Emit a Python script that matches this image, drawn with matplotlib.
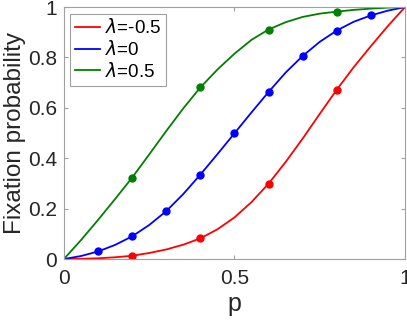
import matplotlib.pyplot as plt

plt.rcParams['font.family'] = ['Liberation Sans', 'DejaVu Sans']

# curve values
p_curve = [0, 0.05, 0.1, 0.15, 0.2, 0.25, 0.3, 0.35, 0.4, 0.45, 0.5,
           0.55, 0.6, 0.65, 0.7, 0.75, 0.8, 0.85, 0.9, 0.95, 1]
red_curve = [0, 0.001, 0.003, 0.007, 0.013, 0.024, 0.038, 0.057, 0.082, 0.118, 0.165,
             0.226, 0.299, 0.385, 0.478, 0.576, 0.672, 0.762, 0.845, 0.925, 1]
blue_curve = [0, 0.012, 0.030, 0.056, 0.090, 0.135, 0.190, 0.258, 0.335, 0.416, 0.499,
              0.582, 0.663, 0.740, 0.806, 0.862, 0.907, 0.942, 0.967, 0.986, 1]
green_curve = [0, 0.075, 0.155, 0.238, 0.323, 0.415, 0.508, 0.598, 0.681, 0.752, 0.815,
               0.870, 0.911, 0.940, 0.961, 0.974, 0.982, 0.989, 0.994, 0.998, 1]

# simulated points
p_red = [0.2, 0.4, 0.6, 0.8]
y_red = [0.012, 0.082, 0.299, 0.672]
p_blue = [0.1, 0.2, 0.3, 0.4, 0.5, 0.6, 0.7, 0.8, 0.9]
y_blue = [0.030, 0.090, 0.190, 0.335, 0.499, 0.663, 0.806, 0.907, 0.967]
p_green = [0.2, 0.4, 0.6, 0.8]
y_green = [0.323, 0.681, 0.911, 0.980]

labels = [r'$\lambda$=-0.5', r'$\lambda$=0', r'$\lambda$=0.5']
colors = ['#ff0000', '#0000ff', '#008000']

fig = plt.figure(figsize=(4.07, 3.23), dpi=100)
ax = fig.add_axes([0.157, 0.198, 0.838, 0.780])

ax.plot(p_curve, red_curve, color=colors[0], lw=1.3, label=labels[0])
ax.plot(p_curve, blue_curve, color=colors[1], lw=1.3, label=labels[1])
ax.plot(p_curve, green_curve, color=colors[2], lw=1.3, label=labels[2])
ax.plot(p_red, y_red, 'o', color=colors[0], ms=5)
ax.plot(p_blue, y_blue, 'o', color=colors[1], ms=5)
ax.plot(p_green, y_green, 'o', color=colors[2], ms=5)

ax.set_xlim(0, 1)
ax.set_ylim(0, 1)
ax.set_xticks([0, 0.5, 1])
ax.set_xticklabels(['0', '0.5', '1'])
ax.set_yticks([0, 0.2, 0.4, 0.6, 0.8, 1])
ax.set_yticklabels(['0', '0.2', '0.4', '0.6', '0.8', '1'])
ax.tick_params(direction='in', length=3, labelsize=15, labelcolor='#262626',
               color='#a0a0a0', top=True, right=True)
ax.tick_params(axis='x', pad=7)
ax.tick_params(axis='y', pad=5)
for s in ax.spines.values():
    s.set_color('#a0a0a0')
    s.set_linewidth(0.8)

ax.set_xlabel('p', fontsize=18, color='#262626', labelpad=3)
ax.set_ylabel('Fixation probability', fontsize=17.5, color='#262626')
ax.yaxis.set_label_coords(-0.112, 0.5)

leg = ax.legend(loc='upper left', fontsize=13.5, fancybox=False, handlelength=1.3,
                handletextpad=0.3, borderpad=0.25, labelspacing=0.15,
                borderaxespad=0.35, framealpha=1)
leg.get_frame().set_edgecolor('#a0a0a0')
leg.get_frame().set_linewidth(0.8)

fig.savefig('out.png', dpi=100)
